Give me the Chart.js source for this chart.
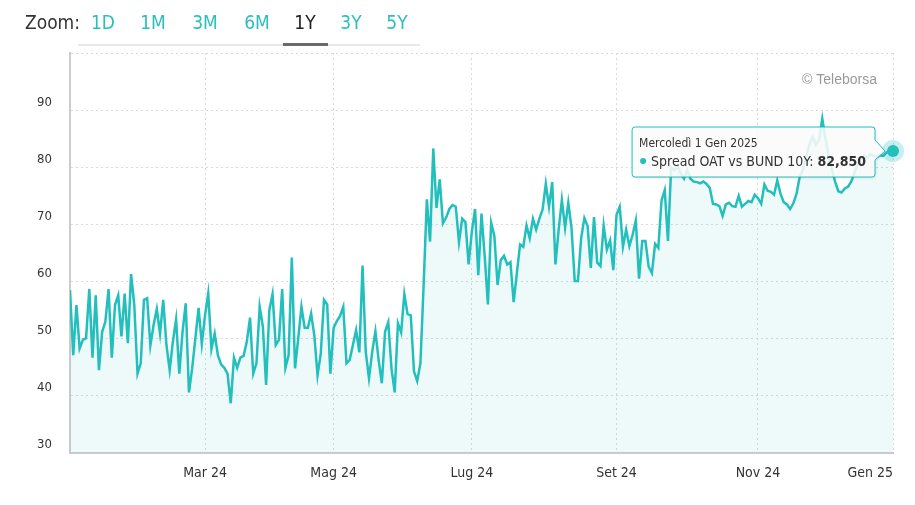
<!DOCTYPE html>
<html>
<head>
<meta charset="utf-8">
<script src="https://cdn.jsdelivr.net/npm/chart.js@4"></script>
<style>
  body { margin: 0; background: #fff; }
  #wrap { position: relative; width: 915px; height: 505px; font-family: "DejaVu Sans Condensed", "DejaVu Sans", sans-serif; }
  #zoom .lbl { position: absolute; left: 25px; top: 11px; font-size: 19px; color: #333; }
  #zoom .btn { position: absolute; top: 11px; width: 40px; margin-left: -20px; text-align: center; font-size: 19px; color: #2bbfbc; }
  #zoom .btn.on { color: #222; }
  #zoom .rail { position: absolute; left: 78px; top: 44px; width: 342px; height: 2px; background: #e8e8e8; }
  #zoom .sel { position: absolute; left: 283px; top: 43px; width: 45px; height: 3px; background: #6a6a6a; }
</style>
</head>
<body>
<div id="wrap">
  <canvas id="spreadChart" width="915" height="505"></canvas>
  <div id="zoom">
    <span class="lbl">Zoom:</span>
    <span class="btn" style="left:103px">1D</span>
    <span class="btn" style="left:153px">1M</span>
    <span class="btn" style="left:205px">3M</span>
    <span class="btn" style="left:257px">6M</span>
    <span class="btn on" style="left:305px">1Y</span>
    <span class="btn" style="left:351px">3Y</span>
    <span class="btn" style="left:397px">5Y</span>
    <div class="rail"></div>
    <div class="sel"></div>
  </div>
</div>
<script>
// spread OAT-Bund 10Y, daily closes Jan 2024 - Jan 2025
const values = [
    58.5, 47.1, 55.9, 48.3, 49.8, 50.1, 58.7, 46.7, 57.6, 44.5,
    51.2, 53.0, 58.7, 46.7, 55.9, 57.6, 50.4, 57.9, 49.2, 61.3,
    55.9, 43.9, 45.7, 56.8, 57.1, 48.8, 52.4, 55.2, 50.9, 56.8,
    48.9, 44.5, 49.5, 53.4, 43.9, 51.2, 56.2, 40.6, 44.8, 50.1,
    55.4, 49.1, 54.1, 57.9, 48.2, 50.9, 47.1, 45.5, 44.9, 43.9,
    38.7, 46.7, 44.9, 46.7, 47.0, 49.5, 53.7, 43.9, 45.7, 55.6,
    52.1, 41.9, 55.0, 57.8, 48.9, 49.8, 58.7, 44.9, 47.1, 64.2,
    44.8, 50.1, 55.6, 51.9, 51.9, 54.4, 50.6, 43.6, 47.4, 56.8,
    56.0, 43.9, 51.9, 53.1, 54.0, 55.6, 45.7, 46.3, 48.9, 51.5,
    47.6, 62.8, 47.7, 43.1, 47.7, 51.3, 46.3, 42.2, 51.2, 52.9,
    44.8, 40.6, 52.7, 51.1, 57.8, 54.3, 54.1, 44.3, 42.6, 45.7,
    59.4, 74.4, 67.0, 83.3, 72.9, 77.9, 70.2, 71.2, 72.7, 73.4,
    73.1,
    66.9, 71.0, 70.4, 63.0, 68.8, 72.7, 61.1, 71.9, 64.4, 56.0,
    70.3, 68.0, 59.4, 63.8, 64.5, 63.0, 63.4, 56.4, 61.5, 66.5,
    66.1, 69.8, 67.6, 71.0, 69.1, 71.0, 72.6, 77.1, 73.1, 77.4,
    63.0, 69.1, 74.3, 69.4, 73.8, 69.4, 60.1, 60.1, 67.6, 71.1,
    69.7, 62.4, 71.3, 63.3, 62.7, 69.8, 65.6, 67.2, 62.0, 71.7,
    73.1, 66.1, 69.1, 66.2, 68.2, 70.7, 60.5, 67.1, 67.1, 62.6,
    61.5, 66.6, 65.9, 74.2, 76.0, 67.1, 80.0, 79.5, 80.2, 78.9,
    78.0, 79.5, 78.0, 77.5, 77.4, 77.2, 77.5, 77.1, 76.4, 73.6,
    73.5, 73.2, 71.5, 73.5, 73.8, 73.2, 73.1, 75.0, 73.1, 73.6,
    74.1, 73.9, 75.2, 74.6, 73.6, 77.0, 75.9, 75.7, 75.2, 77.7,
    75.4, 73.9, 73.5, 72.7, 73.7, 75.4, 78.4,
    79.5, 82.0, 84.0, 85.3, 84.0, 84.8, 88.5, 85.0, 82.0, 79.5,
    77.5, 75.8, 75.6, 76.3, 76.6, 77.5, 79.0, 80.5, 81.5, 82.0,
    81.7, 82.3, 82.0, 81.8, 82.1, 82.0, 82.6, 82.7, 82.85
];

// first trading day of each labelled month (index into values)
const monthIdx = [42, 82, 125, 170, 214, 256];
const monthLabels = ["Mar 24", "Mag 24", "Lug 24", "Set 24", "Nov 24", "Gen 25"];
const yTicks = [30, 40, 50, 60, 70, 80, 90, 100];

const seriesName = "Spread OAT vs BUND 10Y";
const hoverDate = "Mercoledì 1 Gen 2025";

const TEAL = "#22bfbc";
const FONT = '"DejaVu Sans Condensed", "DejaVu Sans", sans-serif';
const last = values.length - 1;

// x labels, credits, hover marker and the fixed tooltip
const decor = {
    id: "decor",
    afterDraw(chart) {
        const { ctx, chartArea } = chart;
        const xs = chart.scales.x;
        ctx.save();

        ctx.font = "14px " + FONT;
        ctx.fillStyle = "#333";
        ctx.textAlign = "center";
        ctx.textBaseline = "middle";
        monthIdx.forEach((v, i) => {
            const w = ctx.measureText(monthLabels[i]).width;
            let px = xs.getPixelForValue(v);
            if (px + w / 2 > chartArea.right) px = chartArea.right - w / 2;
            ctx.fillText(monthLabels[i], px, chartArea.bottom + 20);
        });

        ctx.font = '14px "Liberation Sans", Arial, sans-serif';
        ctx.fillStyle = "#999";
        ctx.textAlign = "right";
        ctx.fillText("\u00a9 Teleborsa", chartArea.right - 16, 80);

        const pt = chart.getDatasetMeta(0).data[last];
        ctx.beginPath();
        ctx.arc(pt.x, pt.y, 11, 0, Math.PI * 2);
        ctx.fillStyle = "rgba(34,191,188,0.25)";
        ctx.fill();
        ctx.beginPath();
        ctx.arc(pt.x, pt.y, 6, 0, Math.PI * 2);
        ctx.fillStyle = TEAL;
        ctx.fill();

        // tooltip box
        const valTxt = values[last].toFixed(3).replace(".", ",");
        const nameTxt = seriesName + ": ";
        ctx.font = "12px " + FONT;
        const w1 = ctx.measureText(hoverDate).width;
        ctx.font = "14px " + FONT;
        const wn = ctx.measureText(nameTxt).width;
        ctx.font = "bold 14px " + FONT;
        const wv = ctx.measureText(valTxt).width;
        const bw = Math.max(w1, 12 + wn + wv) + 16;
        const right = pt.x - 18, left = right - bw;
        const top = pt.y - 24, bottom = pt.y + 26, r = 3;

        ctx.beginPath();
        ctx.moveTo(left + r, top);
        ctx.lineTo(right - r, top);
        ctx.quadraticCurveTo(right, top, right, top + r);
        ctx.lineTo(right, pt.y - 11);
        ctx.lineTo(right + 10, pt.y);
        ctx.lineTo(right, pt.y + 9);
        ctx.lineTo(right, bottom - r);
        ctx.quadraticCurveTo(right, bottom, right - r, bottom);
        ctx.lineTo(left + r, bottom);
        ctx.quadraticCurveTo(left, bottom, left, bottom - r);
        ctx.lineTo(left, top + r);
        ctx.quadraticCurveTo(left, top, left + r, top);
        ctx.closePath();
        ctx.shadowColor = "rgba(0,0,0,0.15)";
        ctx.shadowBlur = 3;
        ctx.shadowOffsetX = 1;
        ctx.shadowOffsetY = 1;
        ctx.fillStyle = "rgba(255,255,255,0.85)";
        ctx.fill();
        ctx.shadowColor = "transparent";
        ctx.lineWidth = 1;
        ctx.strokeStyle = TEAL;
        ctx.stroke();

        ctx.textAlign = "left";
        ctx.textBaseline = "alphabetic";
        ctx.fillStyle = "#333";
        ctx.font = "12px " + FONT;
        ctx.fillText(hoverDate, left + 7, top + 20);
        ctx.beginPath();
        ctx.arc(left + 11, top + 34, 3, 0, Math.PI * 2);
        ctx.fillStyle = TEAL;
        ctx.fill();
        ctx.fillStyle = "#333";
        ctx.font = "14px " + FONT;
        ctx.fillText(nameTxt, left + 19, top + 39);
        ctx.font = "bold 14px " + FONT;
        ctx.fillText(valTxt, left + 19 + wn, top + 39);

        ctx.restore();
    }
};

const ctx = document.getElementById("spreadChart").getContext("2d");
new Chart(ctx, {
    type: "line",
    data: {
        datasets: [{
            label: seriesName,
            data: values.map((v, i) => ({ x: i, y: v })),
            borderColor: TEAL,
            borderWidth: 2.5,
            backgroundColor: "rgba(34,191,188,0.08)",
            fill: "start",
            pointRadius: 0,
            tension: 0,
        }],
    },
    options: {
        responsive: false,
        animation: false,
        layout: { padding: { top: 53, right: 22, left: 0, bottom: 0 } },
        plugins: {
            legend: { display: false },
            tooltip: { enabled: false },
        },
        scales: {
            x: {
                type: "linear",
                min: 0,
                max: last,
                afterBuildTicks: (s) => { s.ticks = monthIdx.map((v) => ({ value: v })); },
                afterFit: (s) => { s.height = 52; },
                ticks: { display: false },
                grid: { color: "#d9d9d9", drawTicks: false },
                border: { color: "#ccc", width: 2, dash: [2, 3] },
            },
            y: {
                min: 30,
                max: 100,
                afterBuildTicks: (s) => { s.ticks = yTicks.map((v) => ({ value: v })); },
                afterFit: (s) => { s.width = 70; },
                ticks: {
                    color: "#333",
                    font: { size: 13, family: FONT },
                    padding: 18,
                    labelOffset: -8,
                    callback: (v) => (v === 100 ? "" : v),
                },
                grid: { color: "#d9d9d9", drawTicks: false },
                border: { color: "#ccc", width: 2, dash: [2, 3] },
            },
        },
    },
    plugins: [decor],
});
</script>
</body>
</html>
